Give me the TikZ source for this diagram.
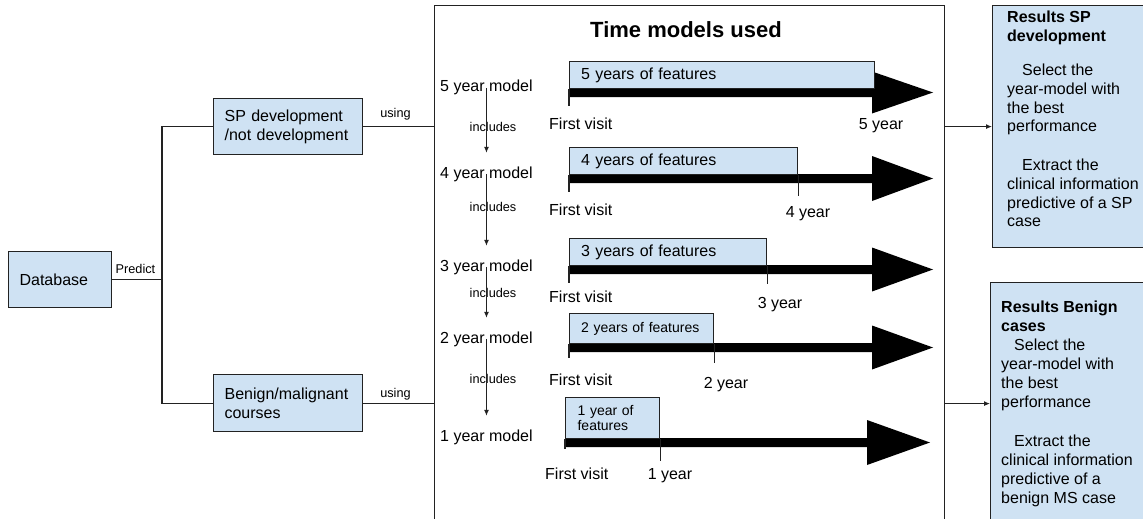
\documentclass[tikz,border=0pt]{standalone}
\usepackage{fontspec}
\setmainfont{Liberation Sans}
\usetikzlibrary{arrows.meta,calc}

\definecolor{paleblue}{HTML}{CFE2F3}
\definecolor{edge}{HTML}{222222}

\tikzset{
  txt/.style={font=\fontsize{16}{18.9}\selectfont, inner sep=0pt},
  smalltxt/.style={font=\fontsize{12.7}{15}\selectfont, inner sep=0pt},
  bluebox/.style={draw=edge, fill=paleblue, line width=1.2pt, inner sep=0pt},
  tbox/.style={bluebox, txt, anchor=north west, align=left, inner ysep=0pt},
  conn/.style={draw=edge, line width=1.1pt},
  arr/.style={conn, -{Latex[length=6pt,width=5pt]}},
  tick/.style={draw=edge, line width=1.1pt},
}

% filled block arrow: #1 left end of the bar centre line, #2 bar length,
% #3 head length, #4 half height of the head
\newcommand\timebar[4]{%
  \fill[black] (#1) ++(0,-4.5) -- ++(#2,0) -- ++(0,{4.5-#4})
    -- ++(#3,#4) -- ++(-#3,#4) -- ++(0,{4.5-#4}) -- ++(-#2,0) -- cycle;}

\begin{document}
\begin{tikzpicture}[x=1pt,y=-1pt]
\useasboundingbox (0,0) rectangle (1143,519);
\clip (0,0) rectangle (1143,519);

% ---- frame of the time models ----
\node[draw=edge, line width=1.2pt, minimum width=510, minimum height=560,
      anchor=north west, inner sep=0pt] (frame) at (434,5) {};
\node[font=\fontsize{22}{26}\selectfont\bfseries, inner sep=0pt, anchor=base]
      (title) at (686,38) {Time models used};

% ---- left part ----
\node[tbox, inner xsep=11, text width=81, minimum height=56] (db) at (8,251) {Database};
\node[tbox, inner xsep=11, text width=127, minimum height=56] (sp) at (213,98)
      {SP development\\/not development};
\node[tbox, inner xsep=11, text width=127, minimum height=57] (bn) at (213,374)
      {Benign/malignant\\courses};

\coordinate (split) at (162,279);
\draw[conn] (db.east) -- (db.east -| split);
\draw[conn] (sp.west) -- (sp.west -| split) -- (bn.west -| split) -- (bn.west);
\node[smalltxt, anchor=base] (predict) at (135.5,273.5) {Predict};

\draw[conn] (sp.east) -- (sp.east -| frame.west);
\draw[conn] (bn.east) -- (bn.east -| frame.west);
\node[smalltxt, anchor=base] (using1) at (395.5,117.5) {using};
\node[smalltxt, anchor=base] (using2) at (395.5,397.5) {using};

% ---- model labels and "includes" arrows ----
\node[txt, anchor=base west] (m5) at (440,92) {5 year model};
\node[txt, anchor=base west] (m4) at (440,178) {4 year model};
\node[txt, anchor=base west] (m3) at (440,271) {3 year model};
\node[txt, anchor=base west] (m2) at (440,343) {2 year model};
\node[txt, anchor=base west] (m1) at (440,441) {1 year model};

\node[smalltxt, anchor=base] (inc1) at (493,131.5) {includes};
\node[smalltxt, anchor=base] (inc2) at (493,211.5) {includes};
\node[smalltxt, anchor=base] (inc3) at (493,297.5) {includes};
\node[smalltxt, anchor=base] (inc4) at (493,383.5) {includes};

\draw[arr] (m5.center) -- ($(m4.center)+(0,-21)$);
\draw[arr] (m4.center) -- ($(m3.center)+(0,-21)$);
\draw[arr] (m3.center) -- ($(m2.center)+(0,-21)$);
\draw[arr] (m2.center) -- ($(m1.center)+(0,-21)$);

% ---- time lines ----
\coordinate (b5) at (569,92.5);
\coordinate (b4) at (569,178.5);
\coordinate (b3) at (569,269.5);
\coordinate (b2) at (569,347.5);
\coordinate (b1) at (565,442.5);
\timebar{b5}{303}{61}{21}
\timebar{b4}{303}{61}{22.5}
\timebar{b3}{303}{61}{22}
\timebar{b2}{303}{61}{22}
\timebar{b1}{302}{63}{22.5}

\node[tbox, inner xsep=11.5, text width=282, minimum height=27] (f5) at (569,61)
      {5 years of features};
\node[tbox, inner xsep=11.5, text width=205, minimum height=27] (f4) at (569,147)
      {4 years of features};
\node[tbox, inner xsep=11.5, text width=174, minimum height=27] (f3) at (569,238)
      {3 years of features};
\node[tbox, inner xsep=11.5, text width=121, minimum height=30,
      font=\fontsize{14}{15.5}\selectfont] (f2) at (569,313) {2 years of features};
\node[tbox, inner xsep=12, text width=70, minimum height=41,
      font=\fontsize{14}{15}\selectfont] (f1) at (565,397) {1 year of\\features};

\draw[tick] (f5.south west) -- ++(0,17);
\draw[tick] (f4.south west) -- ++(0,17);
\draw[tick] (f4.south east) -- ++(0,21);
\draw[tick] (f3.south west) -- ++(0,17);
\draw[tick] (f3.south east) -- ++(0,18);
\draw[tick] (f2.south west) -- ++(0,14);
\draw[tick] (f2.south east) -- ++(0,19);
\draw[tick] (f1.south west) -- ++(0,10);
\draw[tick] (f1.south east) -- ++(0,22);

\node[txt, anchor=base west] (v5) at (549,129) {First visit};
\node[txt, anchor=base west] (v4) at (549,215) {First visit};
\node[txt, anchor=base west] (v3) at (549,302) {First visit};
\node[txt, anchor=base west] (v2) at (549,385) {First visit};
\node[txt, anchor=base west] (v1) at (545,479) {First visit};

\node[txt, anchor=base] (y5) at (881,129) {5 year};
\node[txt, anchor=base] (y4) at (808,217) {4 year};
\node[txt, anchor=base] (y3) at (780,308) {3 year};
\node[txt, anchor=base] (y2) at (726,388) {2 year};
\node[txt, anchor=base] (y1) at (670,479) {1 year};

% ---- results ----
\node[bluebox, anchor=north west, minimum width=170, minimum height=242] (res1) at (992,5) {};
\node[bluebox, anchor=north west, minimum width=170, minimum height=242] (res2) at (990,282) {};

\node[txt, anchor=north west, align=left] (res1text) at (1007,10.5)
  {\textbf{Results SP}\\\textbf{development}\\[15.2pt]
   \hspace*{15pt}Select the\\year-model with\\the best\\performance\\[19.4pt]
   \hspace*{15pt}Extract the\\clinical information\\predictive of a SP\\case};
\node[txt, anchor=north west, align=left, font=\fontsize{16}{19.1}\selectfont]
  (res2text) at (1001,300.5)
  {\textbf{Results Benign}\\\textbf{cases}\\
   \hspace*{13pt}Select the\\year-model with\\the best\\performance\\[19.4pt]
   \hspace*{13pt}Extract the\\clinical information\\predictive of a\\benign MS case};

\draw[arr] (res1.west -| frame.east) -- (res1.west);
\draw[arr] (res2.west -| frame.east) -- (res2.west);
\end{tikzpicture}
\end{document}
